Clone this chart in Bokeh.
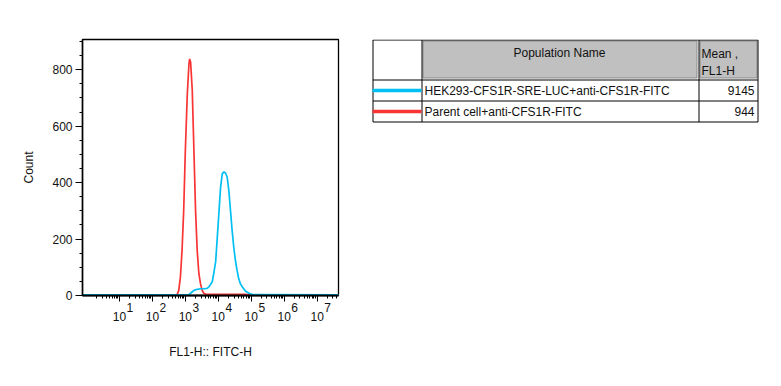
import numpy as np
from bokeh.plotting import figure
from bokeh.models import (Range1d, FixedTicker, LogAxis, LogScale,
                          CustomJSTickFormatter)
from bokeh.layouts import row
from bokeh.embed import file_html
from bokeh.resources import INLINE
from bokeh.core.properties import value

FONT = "Liberation Sans"
TXT = "#111111"

# ---- data (log10 of FL1-H channel, event counts) ----
red_log = [-0.2, 2.75, 2.80, 2.85, 2.90, 2.95, 3.00, 3.06, 3.11, 3.13,
           3.16, 3.21, 3.26, 3.31, 3.36, 3.41, 3.46, 3.51, 3.56, 3.61,
           4.82, 4.92, 7.7]
red_count = [2, 3, 18, 65, 160, 301, 514, 715, 821, 838,
             827, 727, 514, 301, 160, 78, 42, 18, 8, 5,
             4, 2, 2]

blue_log = [-0.2, 3.10, 3.16, 3.26, 3.36, 3.46, 3.56, 3.66, 3.71, 3.76,
            3.82, 3.86, 3.92, 3.97, 4.02, 4.07, 4.12, 4.17, 4.22, 4.27,
            4.32, 4.37, 4.42, 4.47, 4.52, 4.57, 4.62, 4.67, 4.73, 4.83,
            4.93, 5.04, 7.7]
blue_count = [2, 2, 8, 18, 22, 24, 24, 25, 30, 38,
              50, 77, 120, 207, 295, 384, 431, 438, 434, 419,
              372, 301, 230, 171, 124, 89, 59, 42, 30, 15,
              8, 3, 2]

populations = ["HEK293-CFS1R-SRE-LUC+anti-CFS1R-FITC", "Parent cell+anti-CFS1R-FITC"]
means = ["9145", "944"]
colors = ["#00bff3", "#f83434"]

y_ticks = [0, 200, 400, 600, 800]
y_minor = list(range(0, 901, 50))
decades = [1, 2, 3, 4, 5, 6, 7]

LOG_LO, LOG_HI = -0.121, 7.648
FRAME_W = 256

# ---- histogram ----
p = figure(width=350, height=380, x_axis_type="log",
           x_range=Range1d(10 ** LOG_LO, 10 ** LOG_HI), y_range=Range1d(0, 907),
           output_backend="svg", toolbar_location=None,
           min_border_left=82, min_border_right=12, min_border_top=39, min_border_bottom=85)
p.grid.visible = False
p.outline_line_color = "black"
p.outline_line_width = 1.3
p.background_fill_color = "white"
p.border_fill_color = "white"

p.line(10 ** np.array(red_log), red_count, line_color=colors[1], line_width=1.7)
p.line(10 ** np.array(blue_log), blue_count, line_color=colors[0], line_width=1.7)

ya = p.yaxis[0]
ya.ticker = FixedTicker(ticks=y_ticks, minor_ticks=y_minor)
ya.major_tick_in = 0
ya.major_tick_out = 7
ya.minor_tick_in = 0
ya.minor_tick_out = 3
ya.major_label_standoff = 3
ya.major_label_text_font = FONT
ya.major_label_text_font_size = "12px"
ya.major_label_text_color = TXT
ya.axis_line_width = 1.5
ya.axis_label = "Count"
ya.axis_label_text_font = FONT
ya.axis_label_text_font_size = "12px"
ya.axis_label_text_font_style = "normal"
ya.axis_label_text_color = TXT
ya.axis_label_standoff = 13

# axis A: ticks only
xa = p.xaxis[0]
xa.ticker = FixedTicker(ticks=[10.0 ** d for d in decades],
                        minor_ticks=[k * 10.0 ** d for d in range(0, 8) for k in range(2, 10)])
xa.formatter = CustomJSTickFormatter(code="return ' ';")
xa.major_tick_in = 0
xa.major_tick_out = 6
xa.minor_tick_in = 0
xa.minor_tick_out = 3
xa.major_label_text_font_size = "1px"
xa.major_label_standoff = 0
xa.axis_line_width = 2

# axis B: exponents, on a range shifted right by a few pixels
shift = 10.5 * (LOG_HI - LOG_LO) / FRAME_W
p.extra_x_ranges = {"sup": Range1d(10 ** (LOG_LO - shift), 10 ** (LOG_HI - shift))}
p.extra_x_scales = {"sup": LogScale()}
xb = LogAxis(x_range_name="sup", ticker=FixedTicker(ticks=[10.0 ** d for d in decades]),
             formatter=CustomJSTickFormatter(code="return String(Math.round(Math.log10(tick)));"))
# axis C: the "10" bases
xc = LogAxis(ticker=FixedTicker(ticks=[10.0 ** d for d in decades]),
             formatter=CustomJSTickFormatter(code="return '10';"))
for ax in (xb, xc):
    ax.axis_line_color = None
    ax.major_tick_in = 0
    ax.major_tick_out = 0
    ax.minor_tick_in = 0
    ax.minor_tick_out = 0
    ax.major_label_text_font = FONT
    ax.major_label_text_font_size = "12px"
    ax.major_label_text_color = TXT
xb.major_label_standoff = -3
xc.major_label_standoff = -3
xc.axis_label = "FL1-H:: FITC-H"
xc.axis_label_text_font = FONT
xc.axis_label_text_font_size = "12px"
xc.axis_label_text_font_style = "normal"
xc.axis_label_text_color = TXT
xc.axis_label_standoff = 21
p.add_layout(xb, "below")
p.add_layout(xc, "below")

# ---- table (page pixel coordinates; frame aligned with histogram frame) ----
t = figure(width=425, height=380, x_range=Range1d(350, 775), y_range=Range1d(295, 39),
           output_backend="svg", toolbar_location=None,
           x_axis_location=None, y_axis_location=None,
           min_border_left=0, min_border_right=0, min_border_top=39, min_border_bottom=85)
t.grid.visible = False
t.outline_line_color = None
t.background_fill_color = "white"
t.border_fill_color = "white"

t.quad(left=[422.5, 699.5], right=[696.5, 756.5], top=[40.5, 40.5], bottom=[77.5, 77.5],
       fill_color="#c0c0c0", line_color="#8a8a8a", line_width=1)
t.quad(left=[372.5], right=[757.5], top=[39.5], bottom=[121.5],
       fill_color=None, line_color="black", line_width=1)
t.segment(x0=[421.5, 698.5, 372.5, 372.5], y0=[39.5, 39.5, 79.5, 100.5],
          x1=[421.5, 698.5, 757.5, 757.5], y1=[121.5, 121.5, 79.5, 100.5],
          line_color="black", line_width=1)
t.segment(x0=[372, 372], y0=[90, 111], x1=[421, 421], y1=[90, 111],
          line_color=colors, line_width=3.5)

t.text(x=[559], y=[52.5], text=["Population Name"], text_font=value(FONT),
       text_font_size="12px", text_align="center", text_baseline="middle", text_color=TXT)
t.text(x=[701, 701], y=[53, 70], text=["Mean ,", "FL1-H"], text_font=value(FONT),
       text_font_size="12px", text_align="left", text_baseline="middle", text_color=TXT)
t.text(x=[424, 424], y=[90, 111], text=populations, text_font=value(FONT),
       text_font_size="12px", text_align="left", text_baseline="middle", text_color=TXT)
t.text(x=[754, 754], y=[90, 111], text=means, text_font=value(FONT),
       text_font_size="12px", text_align="right", text_baseline="middle", text_color=TXT)

layout = row(p, t)
open("out.html", "w").write(file_html(layout, INLINE))
